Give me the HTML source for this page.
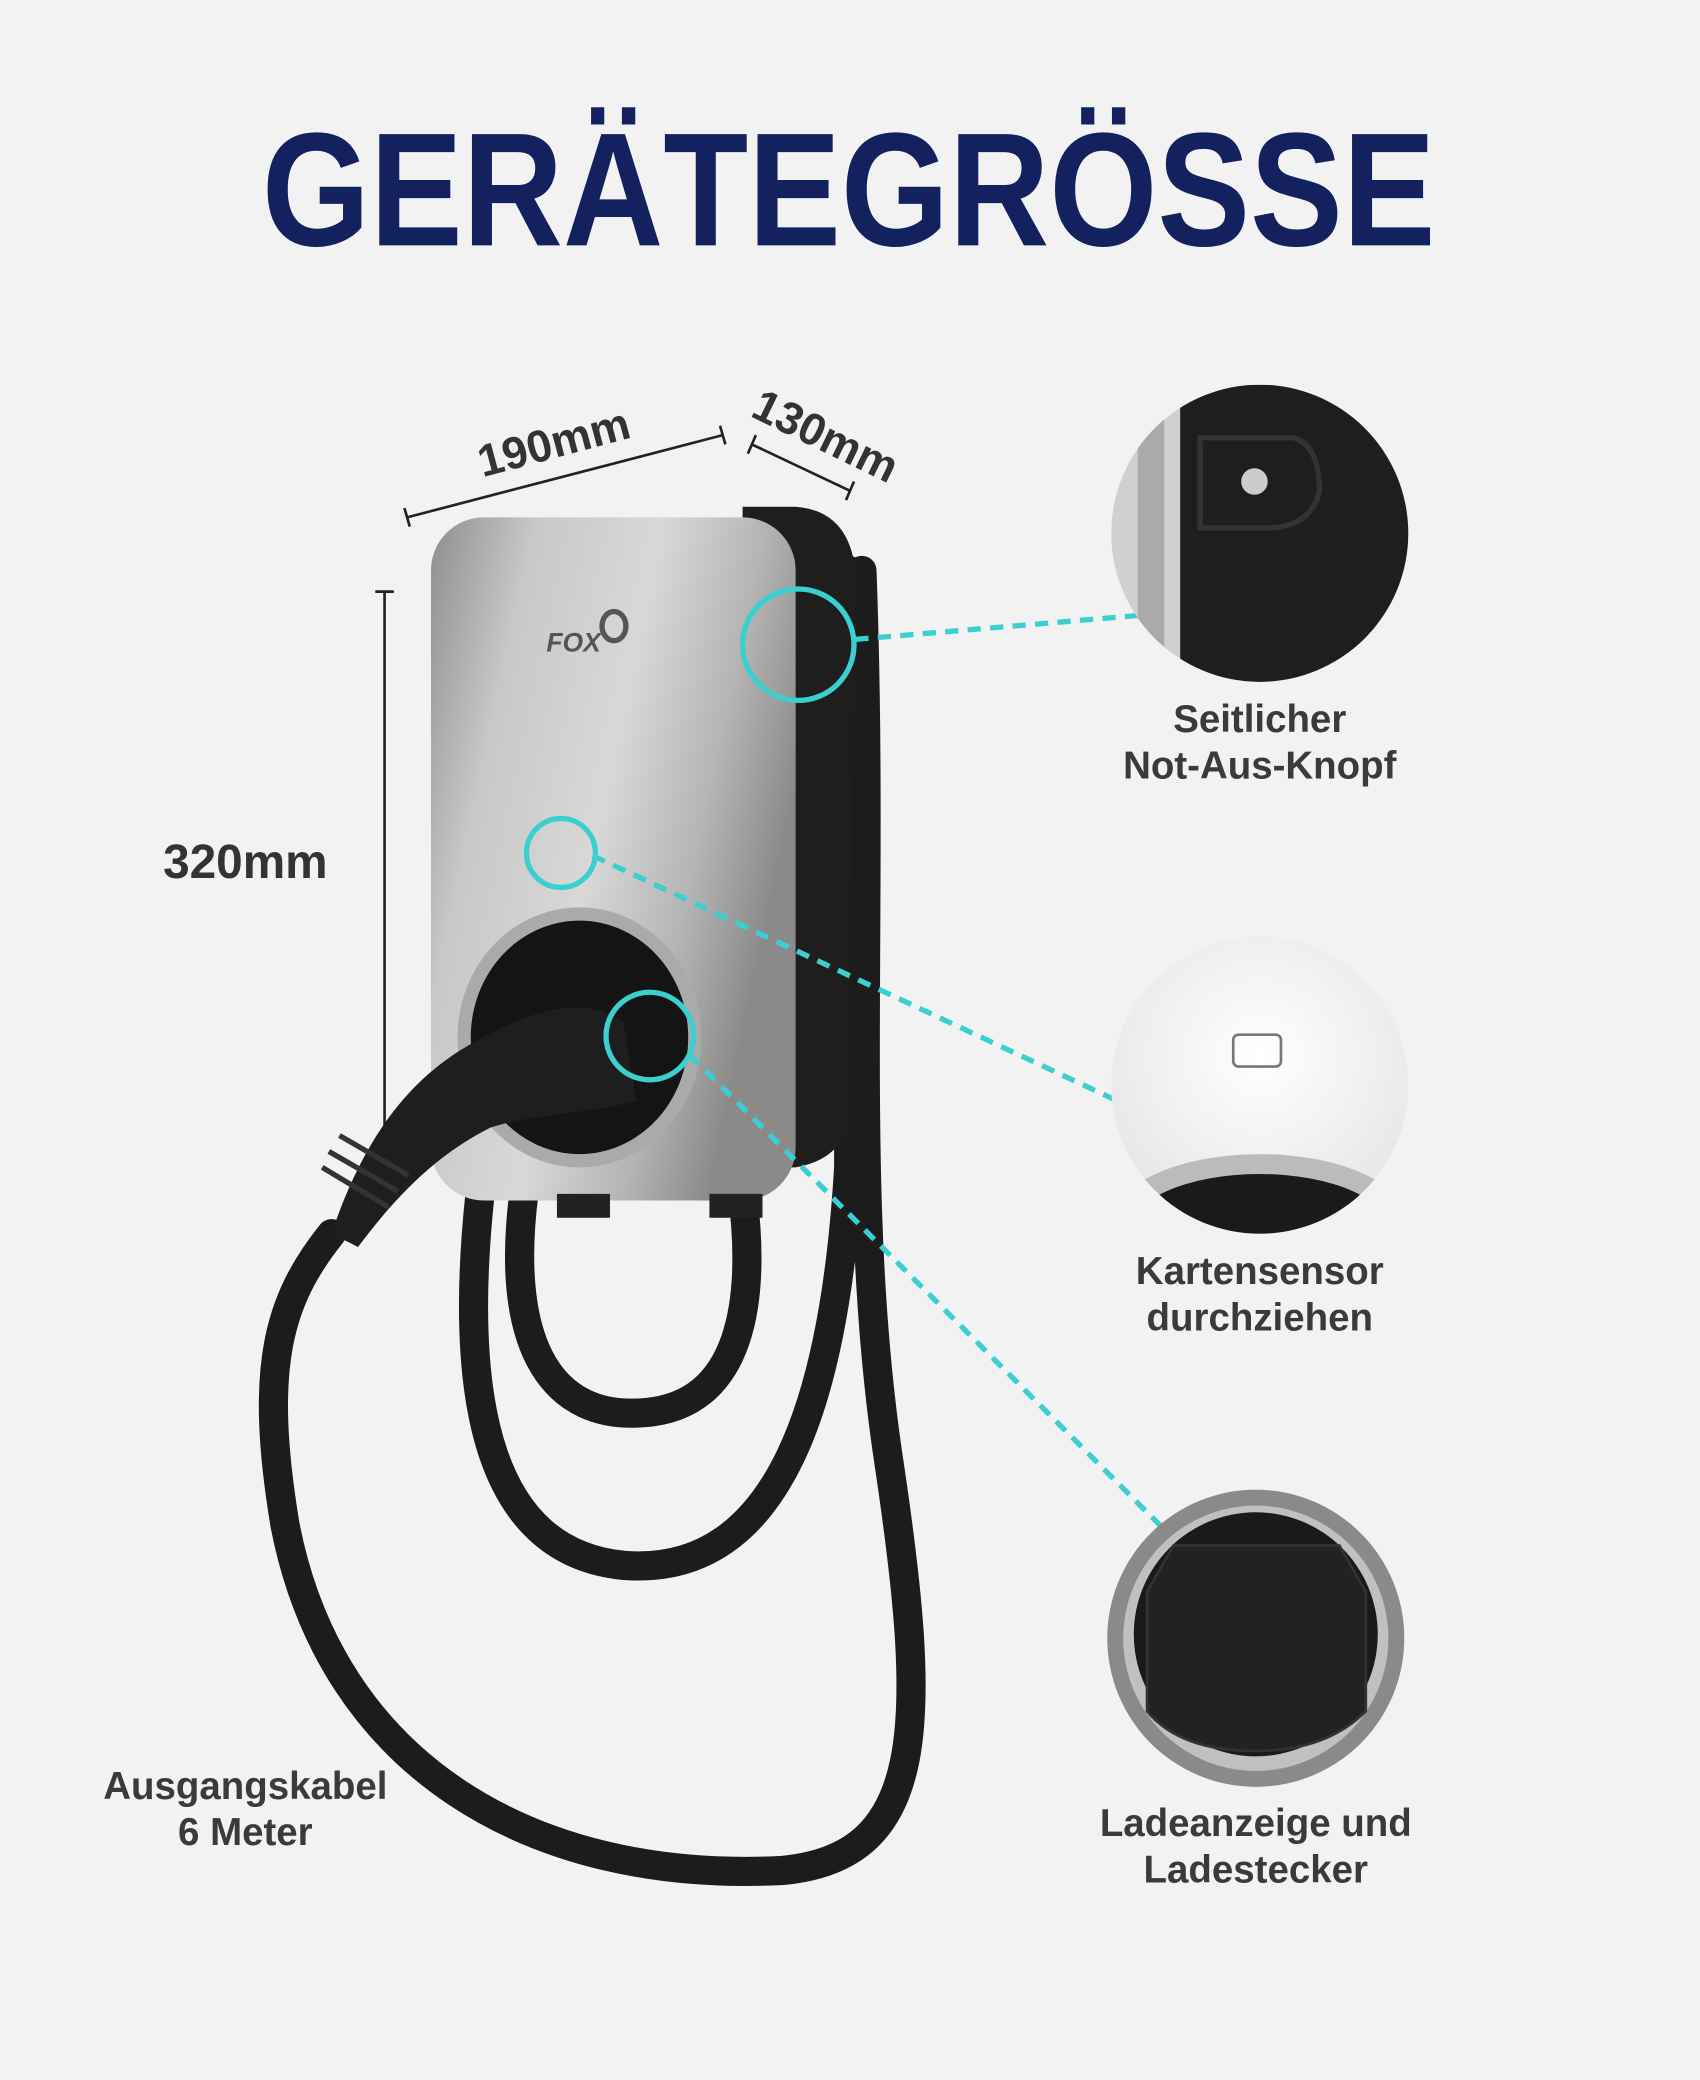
<!DOCTYPE html>
<html><head><meta charset="utf-8"><style>
html,body{margin:0;padding:0;background:#f2f2f2;}
svg{display:block;}
text{font-family:"Liberation Sans",sans-serif;font-weight:bold;}
</style></head><body>
<svg width="1700" height="2080" viewBox="0 0 1282 1568" preserveAspectRatio="none" xmlns="http://www.w3.org/2000/svg">
<defs>
<linearGradient id="silver" x1="0" y1="0" x2="1" y2="0.4">
<stop offset="0" stop-color="#8e8e8e"/><stop offset="0.25" stop-color="#c8c8c8"/><stop offset="0.55" stop-color="#d8d8d8"/><stop offset="0.8" stop-color="#b4b4b4"/><stop offset="1" stop-color="#8a8a8a"/>
</linearGradient>
<radialGradient id="white" cx="0.5" cy="0.4" r="0.6"><stop offset="0" stop-color="#fff"/><stop offset="1" stop-color="#e6e6e6"/></radialGradient>
<clipPath id="c1"><circle cx="950" cy="402" r="112"/></clipPath>
<clipPath id="c2"><circle cx="950" cy="818" r="112"/></clipPath>
</defs>
<rect width="1282" height="1568" fill="#f2f2f2"/>
<text x="640" y="185" font-size="122" fill="#13215e" text-anchor="middle" textLength="885" lengthAdjust="spacingAndGlyphs">GERÄTEGRÖSSE</text>

<!-- dimension lines -->
<g stroke="#222" stroke-width="2" fill="none">
<line x1="307" y1="390" x2="545" y2="328"/><line x1="305" y1="383" x2="309" y2="397"/><line x1="543" y1="321" x2="547" y2="335"/>
<line x1="567" y1="335" x2="641" y2="370"/><line x1="570" y1="328" x2="564" y2="342"/><line x1="644" y1="363" x2="638" y2="377"/>
<line x1="290" y1="446" x2="290" y2="880"/><line x1="283" y1="446" x2="297" y2="446"/>
</g>
<text x="418" y="345" font-size="34" fill="#333" text-anchor="middle" transform="rotate(-15 418 335)">190mm</text>
<text x="622" y="340" font-size="34" fill="#333" text-anchor="middle" transform="rotate(26 622 330)">130mm</text>
<text x="185" y="662" font-size="36" fill="#333" text-anchor="middle">320mm</text>

<!-- cables -->
<g stroke="#1c1c1c" stroke-width="22" fill="none" stroke-linecap="round">
<path d="M395 900 C380 1020 420 1070 485 1065 C560 1060 570 980 560 900"/>
<path d="M362 900 C345 1060 370 1170 470 1180 C590 1190 630 1050 640 880 L640 430"/>
<path d="M650 430 C660 700 640 900 670 1100 C700 1300 700 1400 590 1410 C400 1420 250 1330 215 1150 C195 1030 210 980 250 930"/>
</g>
<!-- side black part -->
<path d="M560 382 L600 382 Q640 385 645 430 L640 850 Q630 875 600 880 L560 880 Z" fill="#1e1e1e"/>
<!-- body -->
<rect x="325" y="390" width="275" height="515" rx="40" fill="url(#silver)"/>
<rect x="420" y="900" width="40" height="18" fill="#222"/><rect x="535" y="900" width="40" height="18" fill="#222"/>
<text x="412" y="491" font-size="20" fill="#555" font-style="italic">FOX</text>
<ellipse cx="463" cy="472" rx="9" ry="11" fill="none" stroke="#555" stroke-width="4"/>
<!-- socket -->
<ellipse cx="437" cy="782" rx="92" ry="98" fill="#aaa"/>
<ellipse cx="437" cy="782" rx="82" ry="88" fill="#141414"/>
<!-- plug -->
<path d="M250 930 C270 870 300 820 350 790 C400 760 440 750 470 770 L480 830 C440 840 400 840 370 850 C330 870 300 900 270 940 Z" fill="#1e1e1e"/>
<g stroke="#333" stroke-width="4"><line x1="243" y1="880" x2="293" y2="910"/><line x1="248" y1="868" x2="300" y2="898"/><line x1="256" y1="856" x2="308" y2="886"/></g>

<!-- teal circles and dashes -->
<g stroke="#3ccfcf" stroke-width="4" fill="none">
<circle cx="602" cy="486" r="42"/><circle cx="423" cy="643" r="26"/><circle cx="490" cy="781" r="33"/>
<g stroke-dasharray="10 7"><line x1="645" y1="482" x2="870" y2="463"/><line x1="447" y1="645" x2="875" y2="845"/><line x1="520" y1="795" x2="895" y2="1170"/></g>
</g>

<!-- detail circles -->
<g clip-path="url(#c1)"><rect x="838" y="290" width="225" height="225" fill="#d0d0d0"/><path d="M890 290 L1063 290 L1063 515 L890 515 Z" fill="#1e1e1e"/><path d="M905 330 L975 330 Q995 335 995 370 Q990 395 960 398 L905 398 Z" fill="none" stroke="#333" stroke-width="4"/><circle cx="946" cy="363" r="10" fill="#ccc"/><rect x="858" y="290" width="20" height="225" fill="#aaa"/></g>
<g clip-path="url(#c2)"><rect x="838" y="706" width="225" height="225" fill="url(#white)"/><ellipse cx="950" cy="920" rx="110" ry="50" fill="#bbb"/><ellipse cx="950" cy="930" rx="100" ry="45" fill="#1a1a1a"/><rect x="930" y="780" width="36" height="24" rx="4" fill="none" stroke="#777" stroke-width="2"/></g>
<circle cx="947" cy="1235" r="112" fill="#8a8a8a"/><circle cx="947" cy="1235" r="100" fill="#c0c0c0"/><circle cx="947" cy="1232" r="92" fill="#1a1a1a"/>
<path d="M885 1165 L1010 1165 L1030 1200 L1030 1290 Q1000 1320 947 1320 Q890 1320 865 1290 L865 1200 Z" fill="#222" stroke="#333" stroke-width="2"/>

<!-- labels -->
<g font-size="29" fill="#3a3a3a" text-anchor="middle">
<text x="950" y="552">Seitlicher</text><text x="950" y="587">Not-Aus-Knopf</text>
<text x="950" y="968">Kartensensor</text><text x="950" y="1003">durchziehen</text>
<text x="947" y="1384">Ladeanzeige und</text><text x="947" y="1419">Ladestecker</text>
<text x="185" y="1356">Ausgangskabel</text><text x="185" y="1391">6 Meter</text>
</g>
</svg>
</body></html>
